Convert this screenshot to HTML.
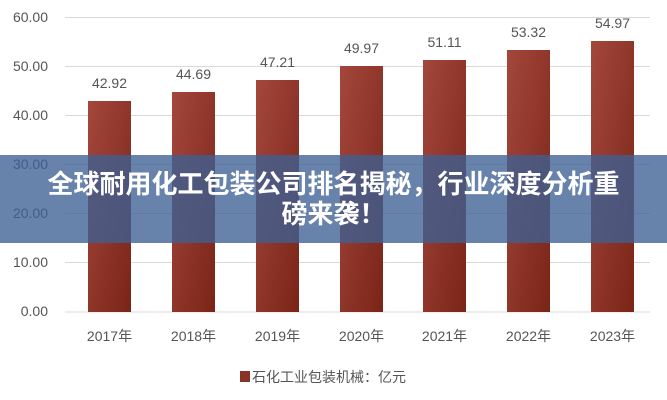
<!DOCTYPE html>
<html><head><meta charset="utf-8"><style>
body{margin:0;width:667px;height:400px;background:#fff;overflow:hidden;position:relative;font-family:"Liberation Sans","Noto Sans CJK SC",sans-serif}
svg{position:absolute;left:0;top:0}
.banner{position:absolute;left:0;top:155px;width:667px;height:88px;background:rgba(62,96,148,0.78);color:#fff;font-weight:bold;font-size:26px;line-height:30px;text-align:center;padding-top:13px;box-sizing:border-box;font-family:"Noto Sans CJK SC",sans-serif;white-space:nowrap}
</style></head><body>
<svg width="667" height="400" font-family="Liberation Sans, Noto Sans CJK SC, sans-serif">
<defs><linearGradient id="g" x1="0" y1="0" x2="1" y2="1"><stop offset="0" stop-color="#a4473d"/><stop offset="1" stop-color="#7a2417"/></linearGradient></defs>
<g stroke="#d9d9d9" stroke-width="1">
<line x1="65" x2="650" y1="17.5" y2="17.5"/><line x1="65" x2="650" y1="66.5" y2="66.5"/><line x1="65" x2="650" y1="115.5" y2="115.5"/><line x1="65" x2="650" y1="164.5" y2="164.5"/><line x1="65" x2="650" y1="213.5" y2="213.5"/><line x1="65" x2="650" y1="262.5" y2="262.5"/><line x1="65" x2="650" y1="312" y2="312"/>
</g>
<g font-size="14" fill="#555" text-anchor="end">
<text x="48" y="22">60.00</text><text x="48" y="71">50.00</text><text x="48" y="120">40.00</text><text x="48" y="169">30.00</text><text x="48" y="218">20.00</text><text x="48" y="267">10.00</text><text x="48" y="316">0.00</text>
</g>
<g fill="url(#g)">
<rect x="88" y="101" width="43" height="211"/>
<rect x="172" y="92" width="43" height="220"/>
<rect x="256" y="80" width="43" height="232"/>
<rect x="340" y="66" width="43" height="246"/>
<rect x="423" y="60" width="43" height="252"/>
<rect x="507" y="50" width="43" height="262"/>
<rect x="591" y="41" width="43" height="271"/>
</g>
<g font-size="14" fill="#555" text-anchor="middle">
<text x="109.5" y="88">42.92</text><text x="193.5" y="79">44.69</text><text x="277.5" y="67">47.21</text><text x="361.5" y="53">49.97</text><text x="444.5" y="47">51.11</text><text x="528.5" y="37">53.32</text><text x="612.5" y="28">54.97</text>
<text x="109.5" y="341">2017年</text><text x="193.5" y="341">2018年</text><text x="277.5" y="341">2019年</text><text x="361.5" y="341">2020年</text><text x="444.5" y="341">2021年</text><text x="528.5" y="341">2022年</text><text x="612.5" y="341">2023年</text>
</g>
<rect x="240" y="371" width="10" height="11" fill="#8b3226"/>
<text x="252" y="382" font-size="14" fill="#555">石化工业包装机械：亿元</text>
</svg>
<div class="banner">全球耐用化工包装公司排名揭秘，行业深度分析重<br>磅来袭！</div>
</body></html>
